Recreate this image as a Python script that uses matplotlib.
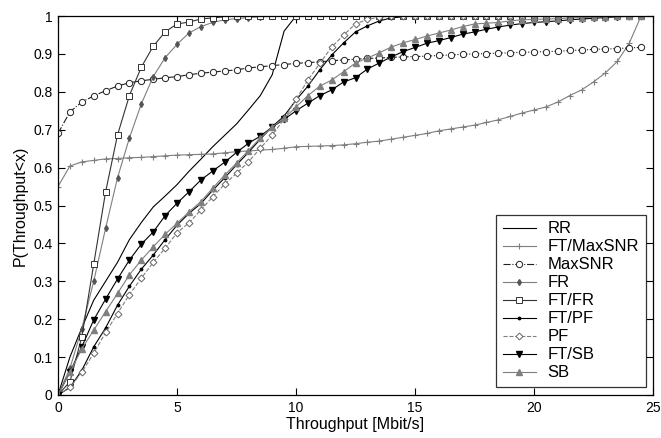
import matplotlib
matplotlib.use('Agg')
import matplotlib.pyplot as plt

plt.rcParams['font.family'] = ['Liberation Sans', 'DejaVu Sans']

# sample points (one marker every 0.5 Mbit/s)
throughput = [0.0, 0.5, 1.0, 1.5, 2.0, 2.5, 3.0, 3.5, 4.0, 4.5,
              5.0, 5.5, 6.0, 6.5, 7.0, 7.5, 8.0, 8.5, 9.0, 9.5,
              10.0, 10.5, 11.0, 11.5, 12.0, 12.5, 13.0, 13.5, 14.0, 14.5,
              15.0, 15.5, 16.0, 16.5, 17.0, 17.5, 18.0, 18.5, 19.0, 19.5,
              20.0, 20.5, 21.0, 21.5, 22.0, 22.5, 23.0, 23.5, 24.0, 24.5]

cdf_rr = [0.0, 0.10, 0.177, 0.25, 0.30, 0.35, 0.41, 0.455, 0.496, 0.525,
          0.555, 0.59, 0.622, 0.655, 0.685, 0.715, 0.752, 0.79, 0.845, 0.96,
          1.0, 1.0, 1.0, 1.0, 1.0, 1.0, 1.0, 1.0, 1.0, 1.0,
          1.0, 1.0, 1.0, 1.0, 1.0, 1.0, 1.0, 1.0, 1.0, 1.0,
          1.0, 1.0, 1.0, 1.0, 1.0, 1.0, 1.0, 1.0, 1.0, 1.0]

cdf_ft_maxsnr = [0.55, 0.604, 0.615, 0.619, 0.623, 0.624, 0.626, 0.627, 0.629, 0.631,
                 0.633, 0.634, 0.635, 0.636, 0.639, 0.642, 0.644, 0.646, 0.648, 0.651,
                 0.655, 0.656, 0.657, 0.658, 0.66, 0.663, 0.667, 0.67, 0.675, 0.68,
                 0.685, 0.69, 0.697, 0.702, 0.707, 0.712, 0.719, 0.726, 0.735, 0.744,
                 0.752, 0.76, 0.773, 0.79, 0.805, 0.826, 0.85, 0.88, 0.928, 1.0]

cdf_maxsnr = [0.69, 0.747, 0.773, 0.789, 0.803, 0.815, 0.824, 0.829, 0.833, 0.837,
              0.840, 0.845, 0.849, 0.852, 0.855, 0.858, 0.863, 0.866, 0.869, 0.872,
              0.875, 0.877, 0.879, 0.882, 0.884, 0.886, 0.888, 0.889, 0.891, 0.892,
              0.893, 0.894, 0.896, 0.897, 0.899, 0.900, 0.901, 0.902, 0.903, 0.904,
              0.905, 0.906, 0.907, 0.909, 0.910, 0.912, 0.913, 0.914, 0.916, 0.917]

cdf_fr = [0.0, 0.07, 0.175, 0.30, 0.44, 0.573, 0.678, 0.768, 0.84, 0.89,
          0.925, 0.955, 0.972, 0.983, 0.99, 0.993, 0.996, 0.998, 0.999, 1.0,
          1.0, 1.0, 1.0, 1.0, 1.0, 1.0, 1.0, 1.0, 1.0, 1.0,
          1.0, 1.0, 1.0, 1.0, 1.0, 1.0, 1.0, 1.0, 1.0, 1.0,
          1.0, 1.0, 1.0, 1.0, 1.0, 1.0, 1.0, 1.0, 1.0, 1.0]

cdf_ft_fr = [0.0, 0.035, 0.153, 0.345, 0.536, 0.686, 0.79, 0.865, 0.92, 0.958,
             0.979, 0.984, 0.992, 0.995, 0.998, 1.0, 1.0, 1.0, 1.0, 1.0,
             1.0, 1.0, 1.0, 1.0, 1.0, 1.0, 1.0, 1.0, 1.0, 1.0,
             1.0, 1.0, 1.0, 1.0, 1.0, 1.0, 1.0, 1.0, 1.0, 1.0,
             1.0, 1.0, 1.0, 1.0, 1.0, 1.0, 1.0, 1.0, 1.0, 1.0]

cdf_ft_pf = [0.0, 0.02, 0.065, 0.127, 0.177, 0.237, 0.287, 0.332, 0.369, 0.41,
             0.448, 0.479, 0.505, 0.54, 0.573, 0.607, 0.64, 0.675, 0.708, 0.736,
             0.778, 0.815, 0.858, 0.897, 0.929, 0.958, 0.974, 0.987, 0.995, 0.998,
             1.0, 1.0, 1.0, 1.0, 1.0, 1.0, 1.0, 1.0, 1.0, 1.0,
             1.0, 1.0, 1.0, 1.0, 1.0, 1.0, 1.0, 1.0, 1.0, 1.0]

cdf_pf = [0.0, 0.02, 0.06, 0.11, 0.165, 0.215, 0.265, 0.308, 0.35, 0.387,
          0.428, 0.454, 0.488, 0.523, 0.556, 0.585, 0.615, 0.651, 0.686, 0.728,
          0.78, 0.831, 0.875, 0.918, 0.95, 0.979, 0.991, 0.997, 1.0, 1.0,
          1.0, 1.0, 1.0, 1.0, 1.0, 1.0, 1.0, 1.0, 1.0, 1.0,
          1.0, 1.0, 1.0, 1.0, 1.0, 1.0, 1.0, 1.0, 1.0, 1.0]

cdf_ft_sb = [0.0, 0.06, 0.127, 0.198, 0.253, 0.306, 0.356, 0.398, 0.43, 0.473,
             0.506, 0.536, 0.567, 0.591, 0.614, 0.64, 0.664, 0.683, 0.707, 0.727,
             0.75, 0.77, 0.79, 0.805, 0.826, 0.837, 0.86, 0.876, 0.892, 0.906,
             0.917, 0.928, 0.935, 0.943, 0.952, 0.958, 0.965, 0.971, 0.976, 0.98,
             0.983, 0.985, 0.987, 0.99, 0.992, 0.994, 0.996, 0.998, 0.999, 1.0]

cdf_sb = [0.0, 0.06, 0.122, 0.171, 0.22, 0.268, 0.317, 0.356, 0.391, 0.424,
          0.453, 0.483, 0.51, 0.546, 0.58, 0.612, 0.645, 0.678, 0.707, 0.73,
          0.76, 0.79, 0.815, 0.831, 0.853, 0.876, 0.889, 0.903, 0.918, 0.929,
          0.938, 0.947, 0.955, 0.963, 0.972, 0.979, 0.981, 0.983, 0.987, 0.99,
          0.991, 0.992, 0.993, 0.995, 0.996, 0.997, 0.998, 0.999, 1.0, 1.0]

gray = '#7f7f7f'
dark = '#000000'

fig = plt.figure(figsize=(6.61, 4.38), dpi=100)
ax = fig.add_axes([58 / 661, 43 / 438, 595 / 661, 379 / 438])

lw = 0.8
ax.plot(throughput, cdf_rr, color=dark, linestyle='-', linewidth=lw, label='RR')
ax.plot(throughput, cdf_ft_maxsnr, color=gray, linestyle='-', linewidth=lw,
        marker='+', markersize=5, markeredgewidth=0.8, label='FT/MaxSNR')
ax.plot(throughput, cdf_maxsnr, color='#202020', linestyle='-.', linewidth=lw,
        marker='o', markersize=4.5, markerfacecolor='white', markeredgewidth=0.7,
        label='MaxSNR')
ax.plot(throughput, cdf_fr, color=gray, linestyle='-', linewidth=lw,
        marker='d', markersize=3, markerfacecolor='#555555', markeredgecolor='#555555',
        label='FR')
ax.plot(throughput, cdf_ft_fr, color='#333333', linestyle='-', linewidth=lw,
        marker='s', markersize=4, markerfacecolor='white', markeredgewidth=0.7,
        label='FT/FR')
ax.plot(throughput, cdf_ft_pf, color=dark, linestyle='-', linewidth=lw,
        marker='.', markersize=3.5, label='FT/PF')
ax.plot(throughput, cdf_pf, color=gray, linestyle='--', linewidth=lw,
        marker='D', markersize=3.5, markerfacecolor='white', markeredgecolor='#666666',
        markeredgewidth=0.7, label='PF')
ax.plot(throughput, cdf_ft_sb, color=dark, linestyle='-', linewidth=lw,
        marker='v', markersize=4, label='FT/SB')
ax.plot(throughput, cdf_sb, color=gray, linestyle='-', linewidth=lw,
        marker='^', markersize=4, label='SB')

ax.set_xlim(0, 25)
ax.set_ylim(0, 1)
ax.set_xticks([0, 5, 10, 15, 20, 25])
ax.set_yticks([0, 0.1, 0.2, 0.3, 0.4, 0.5, 0.6, 0.7, 0.8, 0.9, 1])
ax.set_yticklabels(['0', '0.1', '0.2', '0.3', '0.4', '0.5', '0.6', '0.7', '0.8', '0.9', '1'])
ax.tick_params(direction='in', top=True, right=True, length=5, width=0.8, labelsize=10, pad=4)
for s in ax.spines.values():
    s.set_linewidth(0.9)

ax.set_xlabel('Throughput [Mbit/s]', fontsize=11.5, labelpad=2)
ax.set_ylabel('P(Throughput<x)', fontsize=11.5, labelpad=4)

leg = ax.legend(loc='lower right', bbox_to_anchor=(0.988, 0.021), borderaxespad=0,
                fontsize=12, frameon=True, fancybox=False, handlelength=2.0,
                handletextpad=0.7, labelspacing=0.18, borderpad=0.4)
leg.get_frame().set_edgecolor('black')
leg.get_frame().set_linewidth(0.9)

fig.savefig('out.png', dpi=100, facecolor='white')
